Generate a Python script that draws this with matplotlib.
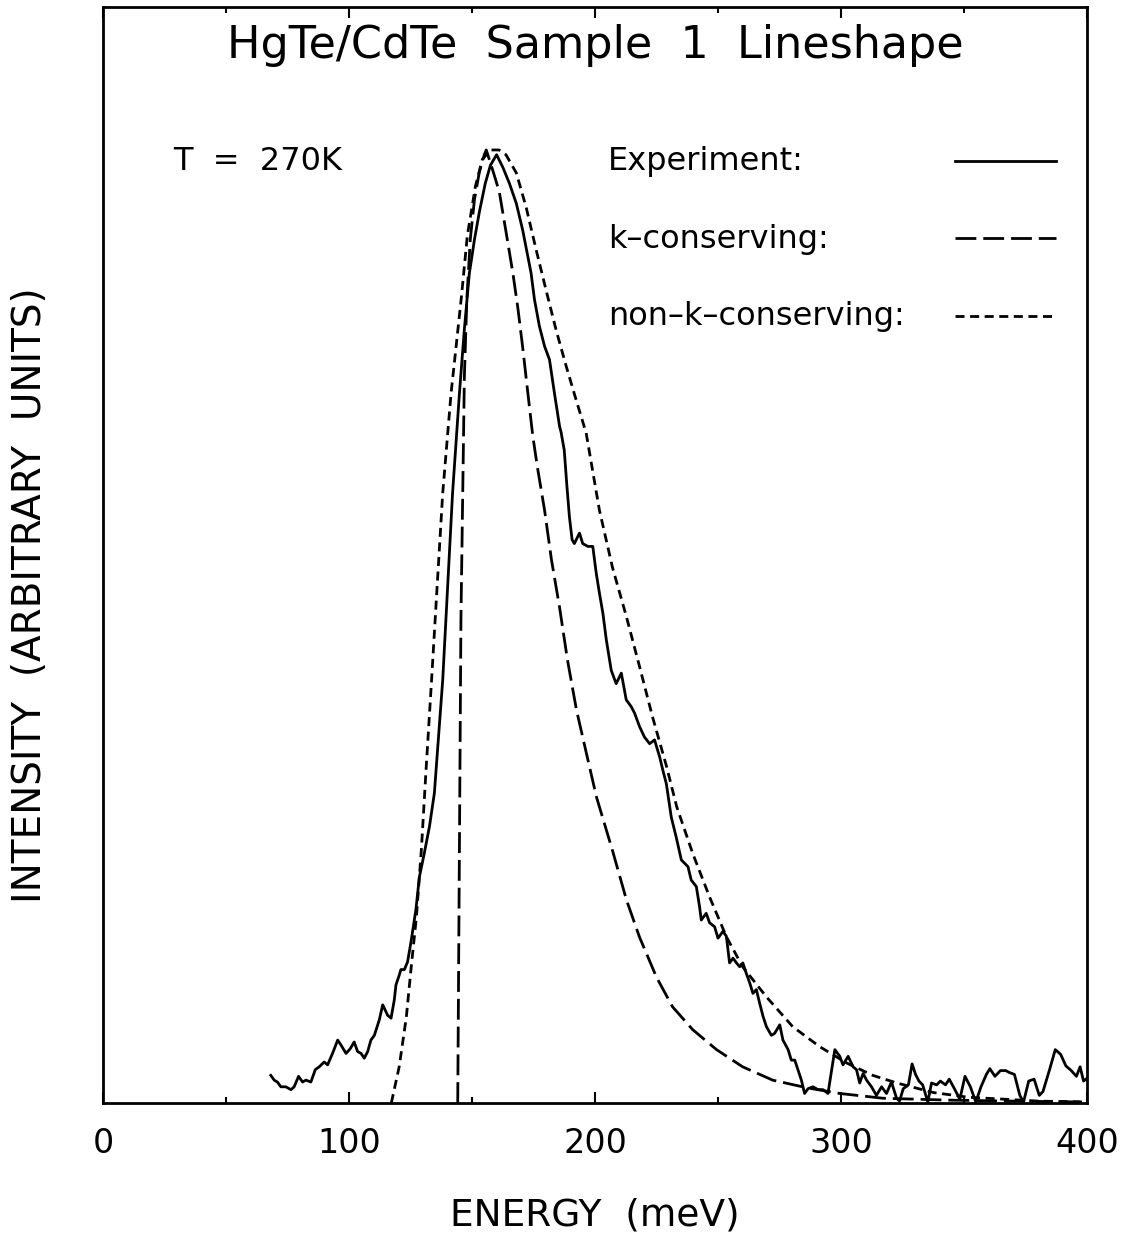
import matplotlib
matplotlib.use("Agg")
import matplotlib.pyplot as plt

plt.rcParams["font.family"] = ["DejaVu Sans"]
plt.rcParams["lines.scale_dashes"] = False

# experiment (solid)
exp_energy = [68.2, 69.6, 70.9, 72.3, 74.3, 76.4, 77.7, 79.5, 81.1, 82.5, 84.5, 86.3, 87.9, 89.9,
              91.3, 93.3, 95.4, 96.7, 98.8, 100.5, 102.1, 103.5, 104.9, 106.2, 107.6, 108.9, 110.3,
              112.3, 113.7, 115.7, 117.1, 118.4, 119.1, 120.4, 121.1, 122.5, 123.8, 125.2, 127.2,
              128.6, 130.6, 132.7, 134.7, 136.5, 138.1, 139.4, 142.1, 144.9, 146.9, 148.9, 151.0,
              153.0, 155.4, 157.5, 160.0, 162.5, 165.2, 168.0, 170.6, 172.7, 174.0, 175.4, 177.4,
              179.5, 181.5, 183.5, 185.6, 186.2, 187.5, 188.5, 189.6, 190.7, 191.6, 193.7, 195.0,
              197.1, 199.1, 200.5, 201.8, 203.2, 204.6, 206.6, 208.6, 210.7, 212.7, 214.7, 216.1,
              218.1, 220.1, 222.2, 224.2, 226.3, 227.6, 229.0, 231.0, 233.0, 235.1, 237.8, 239.1,
              241.2, 242.5, 243.2, 245.2, 246.6, 248.6, 250.0, 252.0, 253.4, 254.7, 256.1, 257.5,
              258.8, 260.1, 261.5, 262.9, 264.2, 265.6, 266.9, 268.3, 269.7, 271.7, 273.0, 275.1,
              276.4, 278.5, 279.8, 281.2, 282.5, 283.9, 285.2, 286.6, 288.6, 290.7, 292.7, 294.7,
              297.5, 299.5, 300.8, 302.9, 304.9, 306.3, 307.6, 309.0, 310.4, 312.4, 314.4, 316.5,
              318.5, 320.5, 322.6, 323.8, 325.3, 327.4, 328.9, 330.3, 331.7, 333.2, 335.3, 336.8,
              338.9, 340.4, 342.5, 344.0, 346.1, 348.3, 350.4, 352.6, 354.8, 356.9, 359.1, 360.5,
              362.6, 364.8, 367.0, 368.4, 370.5, 372.7, 374.2, 376.3, 378.5, 380.6, 382.1, 384.9,
              387.1, 389.3, 391.4, 393.6, 395.7, 397.2, 398.6, 400.0]
exp_intensity = [0.029, 0.024, 0.022, 0.017, 0.017, 0.014, 0.017, 0.028, 0.022, 0.024, 0.022, 0.035,
                 0.038, 0.043, 0.040, 0.052, 0.066, 0.061, 0.052, 0.057, 0.064, 0.054, 0.052, 0.047,
                 0.054, 0.066, 0.071, 0.087, 0.103, 0.092, 0.089, 0.108, 0.124, 0.134, 0.140, 0.140,
                 0.148, 0.169, 0.203, 0.237, 0.262, 0.290, 0.325, 0.388, 0.444, 0.507, 0.640, 0.745,
                 0.812, 0.870, 0.906, 0.935, 0.965, 0.984, 0.995, 0.982, 0.965, 0.944, 0.916, 0.888,
                 0.871, 0.843, 0.815, 0.794, 0.780, 0.745, 0.710, 0.704, 0.685, 0.650, 0.615, 0.591,
                 0.587, 0.598, 0.587, 0.584, 0.584, 0.556, 0.535, 0.514, 0.486, 0.454, 0.440, 0.451,
                 0.423, 0.416, 0.409, 0.395, 0.384, 0.377, 0.381, 0.363, 0.349, 0.335, 0.300, 0.279,
                 0.255, 0.248, 0.234, 0.227, 0.206, 0.192, 0.199, 0.189, 0.185, 0.173, 0.180, 0.175,
                 0.147, 0.152, 0.147, 0.143, 0.147, 0.136, 0.126, 0.115, 0.119, 0.105, 0.091, 0.080,
                 0.071, 0.073, 0.082, 0.066, 0.056, 0.045, 0.045, 0.035, 0.024, 0.010, 0.015, 0.017,
                 0.014, 0.014, 0.010, 0.056, 0.049, 0.040, 0.049, 0.038, 0.035, 0.021, 0.031, 0.024,
                 0.017, 0.008, 0.017, 0.010, 0.022, 0.005, 0.002, 0.015, 0.019, 0.041, 0.030, 0.023,
                 0.019, 0.001, 0.021, 0.019, 0.023, 0.019, 0.025, 0.015, 0.004, 0.028, 0.017, 0.001,
                 0.017, 0.030, 0.036, 0.028, 0.034, 0.034, 0.032, 0.030, 0.008, 0.001, 0.023, 0.025,
                 0.008, 0.012, 0.036, 0.056, 0.051, 0.039, 0.034, 0.028, 0.038, 0.023, 0.026]

# k-conserving model (long dashes)
kc_energy = [144.2, 145.5, 146.9, 147.9, 149.3, 151.0, 153.0, 155.0, 155.8, 158.4, 161.1, 163.9,
             166.6, 168.6, 170.6, 172.7, 174.7, 176.6, 179.5, 182.3, 185.6, 188.8, 192.5, 196.5,
             200.6, 207.1, 212.8, 218.1, 225.0, 231.5, 239.7, 249.4, 260.0, 272.2, 286.1, 299.5,
             317.0, 344.0, 370.0, 400.0]
kc_intensity = [0.000, 0.507, 0.762, 0.843, 0.906, 0.948, 0.977, 0.995, 1.000, 0.979, 0.956, 0.913,
                0.871, 0.835, 0.793, 0.745, 0.700, 0.667, 0.622, 0.570, 0.520, 0.465, 0.412, 0.367,
                0.321, 0.265, 0.213, 0.174, 0.132, 0.101, 0.077, 0.056, 0.038, 0.024, 0.016, 0.010,
                0.005, 0.003, 0.002, 0.001]

# non-k-conserving model (short dashes)
nkc_energy = [117.2, 120.4, 123.3, 125.3, 127.4, 129.4, 131.4, 133.5, 135.5, 138.1, 141.5, 142.8,
              145.7, 148.1, 151.4, 154.2, 157.5, 161.0, 163.8, 168.0, 172.0, 176.1, 180.1, 184.2,
              188.3, 192.3, 196.4, 201.8, 207.1, 212.8, 218.1, 223.4, 229.1, 233.2, 239.7, 246.6,
              253.5, 260.0, 269.8, 280.4, 291.4, 302.3, 312.9, 322.7, 337.5, 351.9, 366.3, 380.0,
              400.0]
nkc_intensity = [0.000, 0.038, 0.090, 0.143, 0.195, 0.265, 0.353, 0.441, 0.528, 0.640, 0.745, 0.776,
                 0.846, 0.910, 0.962, 0.990, 1.000, 1.000, 0.995, 0.976, 0.940, 0.895, 0.853, 0.811,
                 0.773, 0.738, 0.703, 0.622, 0.562, 0.510, 0.458, 0.405, 0.353, 0.311, 0.262, 0.216,
                 0.174, 0.143, 0.111, 0.080, 0.059, 0.042, 0.029, 0.021, 0.011, 0.006, 0.004, 0.002,
                 0.001]

legend_labels = ["Experiment:", "k\u2013conserving:", "non\u2013k\u2013conserving:"]

LONG_DASH = (0, (15, 5))
SHORT_DASH = (0, (6.5, 4))
LW = 2.0


def main():
    fig = plt.figure(figsize=(11.34, 12.37), dpi=100)
    ax = fig.add_axes([103 / 1134, 134 / 1237, 984 / 1134, 1096 / 1237])

    ax.plot(exp_energy, exp_intensity, color="black", lw=LW, linestyle="-")
    ax.plot(kc_energy, kc_intensity, color="black", lw=LW, linestyle=LONG_DASH)
    ax.plot(nkc_energy, nkc_intensity, color="black", lw=LW, linestyle=SHORT_DASH)

    ax.set_xlim(0, 400)
    ax.set_ylim(0, 1.15)
    ax.set_xticks([0, 100, 200, 300, 400])
    ax.set_xticks([50, 150, 250, 350], minor=True)
    ax.set_yticks([])
    ax.tick_params(axis="x", which="both", direction="in", top=True, bottom=True,
                   width=1.5, labelsize=24, pad=17)
    ax.tick_params(axis="x", which="major", length=8)
    ax.tick_params(axis="x", which="minor", length=4)
    for s in ax.spines.values():
        s.set_linewidth(2)

    ax.set_xlabel("ENERGY  (meV)", fontsize=27, va="center")
    ax.xaxis.set_label_coords(0.5, -0.1022)
    ax.set_ylabel("INTENSITY  (ARBITRARY  UNITS)", fontsize=28, va="center", ha="center")
    ax.yaxis.set_label_coords(-0.0742, 0.4635)

    ax.text(0.5, 0.9535, "HgTe/CdTe  Sample  1  Lineshape", transform=ax.transAxes,
            ha="center", va="baseline", fontsize=32)
    ax.text(0.0711, 0.8513, "T  =  270K", transform=ax.transAxes,
            ha="left", va="baseline", fontsize=23)

    # hand-made legend: labels left-aligned, line samples on the right
    text_y = [0.8513, 0.7801, 0.7099]
    line_y = [0.8595, 0.7892, 0.7181]
    styles = ["-", LONG_DASH, SHORT_DASH]
    for lab, ty, ly, st in zip(legend_labels, text_y, line_y, styles):
        ax.text(0.5132, ty, lab, transform=ax.transAxes, ha="left", va="baseline", fontsize=23)
        ax.plot([0.8659, 0.9685], [ly, ly], transform=ax.transAxes, color="black",
                lw=LW, linestyle=st, clip_on=False)

    fig.savefig("out.png", dpi=100)
    return 0


if __name__ == "__main__":
    main()
